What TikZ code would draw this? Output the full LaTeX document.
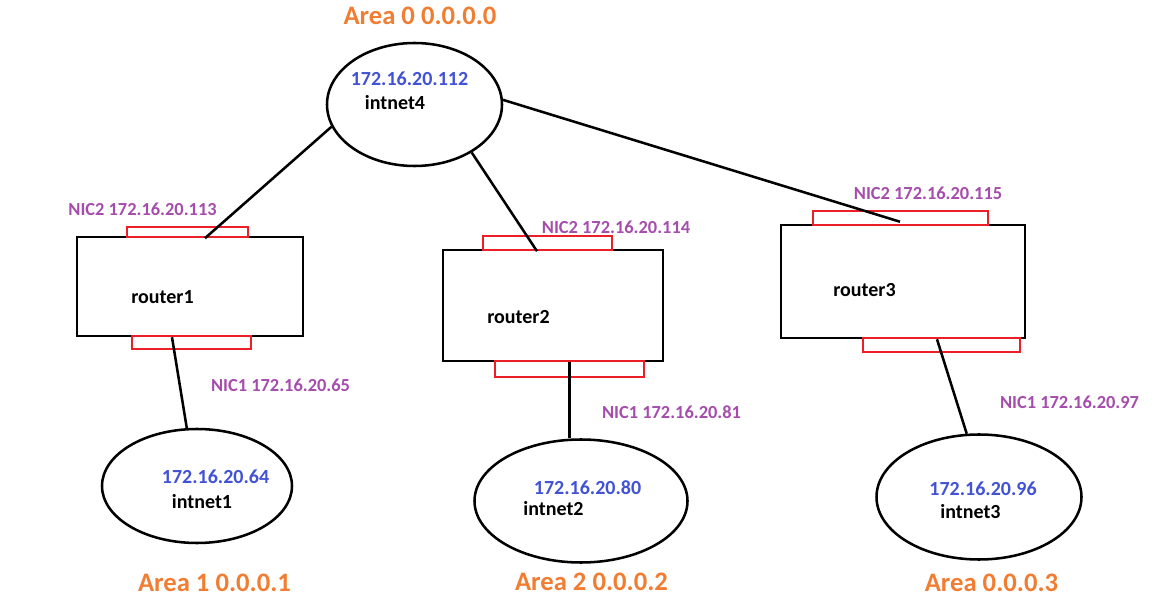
\documentclass[tikz,border=0pt]{standalone}
\usepackage{fontspec}
\setmainfont{Carlito}
\usetikzlibrary{shapes.geometric}
\newdimen\pu \pu=0.75pt
\definecolor{ipblue}{RGB}{66,82,212}
\definecolor{nicpurple}{RGB}{165,76,172}
\definecolor{areaorange}{RGB}{240,125,50}
\definecolor{nicred}{RGB}{236,30,38}
\tikzset{
  net/.style={ellipse, draw, line width=1.9pt, inner sep=0pt},
  routerbox/.style={rectangle, draw, line width=1.9pt, inner sep=0pt},
  nicbox/.style={rectangle, draw=nicred, line width=1.8pt, inner sep=0pt},
  link/.style={line width=1.9pt},
  iplbl/.style={inner sep=0pt, text=ipblue, font=\bfseries\fontsize{15}{18}\selectfont},
  namelbl/.style={inner sep=0pt, text=black, font=\bfseries\fontsize{15}{18}\selectfont},
  niclbl/.style={inner sep=0pt, text=nicpurple, font=\bfseries\fontsize{13.8}{16}\selectfont},
  arealbl/.style={inner sep=0pt, text=areaorange, font=\bfseries\fontsize{20}{24}\selectfont},
}
\begin{document}
\begin{tikzpicture}[x=0.75pt,y=-0.75pt]
\useasboundingbox (0,0) rectangle (1154,602);
% networks
\node[net, minimum width=175\pu, minimum height=123\pu] (n4) at (414.5,104.5) {};
\node[net, minimum width=190\pu, minimum height=114\pu] (n1) at (197,486) {};
\node[net, minimum width=213\pu, minimum height=123\pu] (n2) at (581,501) {};
\node[net, minimum width=205\pu, minimum height=125\pu] (n3) at (979,497) {};
% routers
\node[routerbox, minimum width=226\pu, minimum height=99\pu] (r1) at (190,286.5) {};
\node[routerbox, minimum width=220\pu, minimum height=111\pu] (r2) at (553,305.5) {};
\node[routerbox, minimum width=244\pu, minimum height=113\pu] (r3) at (903,281.5) {};
% NICs
\node[nicbox, minimum width=121\pu, minimum height=10\pu] (r1t) at (187.5,232) {};
\node[nicbox, minimum width=119\pu, minimum height=13\pu] (r1b) at (191.5,342.5) {};
\node[nicbox, minimum width=129\pu, minimum height=14\pu] (r2t) at (547.5,243) {};
\node[nicbox, minimum width=149\pu, minimum height=16\pu] (r2b) at (569.5,369) {};
\node[nicbox, minimum width=175\pu, minimum height=14\pu] (r3t) at (900.5,218) {};
\node[nicbox, minimum width=157\pu, minimum height=14\pu] (r3b) at (941.5,345) {};
% links
\draw[link] (n4.195.4) -- ([xshift=17.5\pu]r1t.south);
\draw[link] (n4.320.4) -- ([xshift=-10.5\pu]r2t.south);
\draw[link] (n4.3.6) -- ([xshift=-3\pu,yshift=2\pu]r3.north);
\draw[link] ([xshift=-18\pu]r1.south) -- (n1.100);
\draw[link] (r2b.center |- r2.south) -- (r2b.center |- n2.north);
\draw[link] ([xshift=34\pu]r3.south) -- (n3.101);
% labels
\node[arealbl] (a0) at (420,16) {Area 0 0.0.0.0};
\node[iplbl] (ip4) at (409.5,79) {172.16.20.112};
\node[namelbl] (nm4) at (395,103) {intnet4};
\node[namelbl] (rl1) at (162.5,297) {router1};
\node[namelbl] (rl2) at (518.5,317) {router2};
\node[namelbl] (rl3) at (864.5,290) {router3};
\node[niclbl] (l113) at (142.5,209) {NIC2 172.16.20.113};
\node[niclbl] (l114) at (616,227) {NIC2 172.16.20.114};
\node[niclbl] (l115) at (928,193) {NIC2 172.16.20.115};
\node[niclbl] (l65) at (280.5,385) {NIC1 172.16.20.65};
\node[niclbl] (l81) at (671.5,412) {NIC1 172.16.20.81};
\node[niclbl] (l97) at (1069.5,402) {NIC1 172.16.20.97};
\node[iplbl] (ip1) at (215.5,477) {172.16.20.64};
\node[namelbl] (nm1) at (202,502) {intnet1};
\node[iplbl] (ip2) at (587.5,488) {172.16.20.80};
\node[namelbl] (nm2) at (553.5,509) {intnet2};
\node[iplbl] (ip3) at (983,489) {172.16.20.96};
\node[namelbl] (nm3) at (970.5,512) {intnet3};
\node[arealbl] (a1) at (214.5,583) {Area 1 0.0.0.1};
\node[arealbl] (a2) at (591.5,582) {Area 2 0.0.0.2};
\node[arealbl] (a3) at (991.5,583) {Area 0.0.0.3};
\end{tikzpicture}
\end{document}
